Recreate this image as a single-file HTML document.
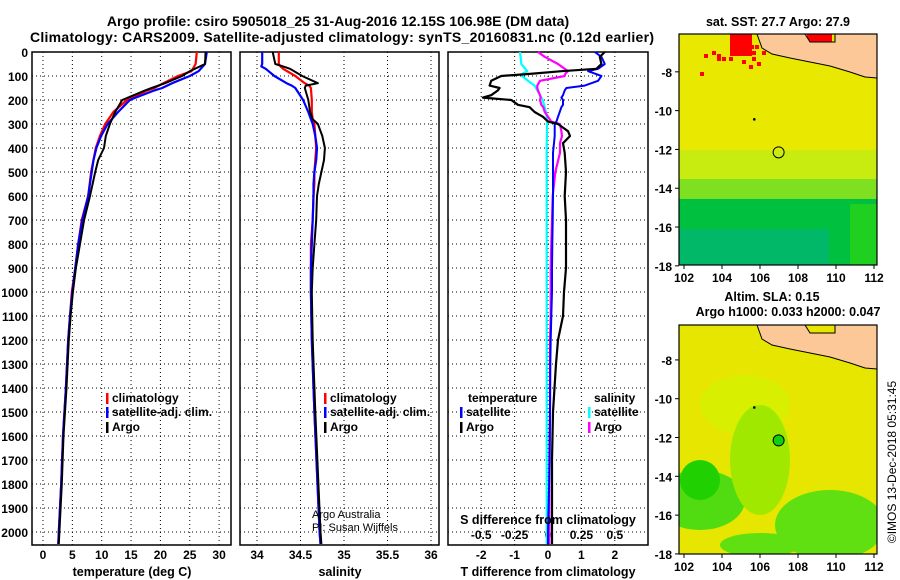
<!DOCTYPE html>
<html><head><meta charset="utf-8"><style>
body{margin:0;background:#fff}
svg{display:block;font-family:"Liberation Sans",sans-serif}
.b{font-weight:bold}
</style></head><body>
<svg id="c" width="900" height="580" viewBox="0 0 900 580">
<text class="b" x="338" y="26" text-anchor="middle" font-size="14">Argo profile: csiro 5905018_25 31-Aug-2016 12.15S 106.98E (DM data)</text>
<text class="b" x="342" y="42" text-anchor="middle" font-size="14" textLength="624">Climatology: CARS2009. Satellite-adjusted climatology: synTS_20160831.nc (0.12d earlier)</text>
<g id="panels"></g>
<g id="maps"></g>
</svg>
<script>
const NS="http://www.w3.org/2000/svg";
const svg=document.getElementById('c');
function mk(tag,attrs,parent){const e=document.createElementNS(NS,tag);for(const k in attrs)e.setAttribute(k,attrs[k]);(parent||svg).appendChild(e);return e;}

// ---- data ----
const tDepth=[0,50,80,100,130,150,160,190,200,250,300,350,400,450,500,600,700,800,900,1000,1100,1200,1400,1600,1800,2000,2050];
const tClim=[26.2,26.0,25.3,23.0,20.5,19.0,17.8,15.2,14.3,12.0,10.6,9.7,9.0,8.6,8.2,7.7,6.6,6.0,5.5,4.9,4.6,4.3,3.9,3.4,3.1,2.7,2.6];
const tSat=[27.9,27.6,26.5,25.0,22.0,20.3,19.0,15.8,14.8,12.8,11.0,9.9,9.1,8.6,8.3,7.7,6.7,6.0,5.5,5.0,4.6,4.3,3.9,3.4,3.1,2.7,2.6];
const tArgo=[27.7,27.6,25.0,23.7,20.8,18.5,17.4,14.5,13.5,12.3,11.4,10.7,10.4,9.4,8.9,8.0,7.0,6.3,5.6,5.1,4.7,4.4,4.0,3.5,3.2,2.8,2.7];
const sDepth=[0,50,60,70,100,130,140,150,200,250,280,300,350,400,450,500,550,600,700,800,900,1000,1200,1500,2000,2050];
const sClim=[34.25,34.25,34.27,34.3,34.44,34.55,34.6,34.62,34.63,34.63,34.64,34.66,34.67,34.68,34.67,34.66,34.66,34.65,34.64,34.62,34.62,34.62,34.63,34.66,34.72,34.73];
const sSat=[34.06,34.06,34.05,34.1,34.2,34.34,34.4,34.44,34.53,34.59,34.62,34.64,34.67,34.69,34.68,34.66,34.65,34.65,34.64,34.63,34.62,34.62,34.63,34.66,34.72,34.73];
const sArgo=[34.18,34.21,34.3,34.38,34.52,34.7,34.56,34.55,34.59,34.61,34.64,34.7,34.75,34.78,34.77,34.74,34.71,34.69,34.68,34.66,34.64,34.63,34.64,34.67,34.73,34.74];
const dDepth=[0,20,50,70,80,90,100,120,140,150,160,180,190,200,220,230,250,270,290,300,330,350,380,420,500,600,700,800,900,1000,1100,1200,1300,1500,1700,2000,2050];
const dTSat=[1.4,1.6,1.7,1.5,1.2,1.4,1.6,1.5,1.1,0.55,0.5,0.45,0.4,0.45,0.45,0.4,0.35,0.3,0.25,0.2,0.2,0.2,0.18,0.15,0.15,0.15,0.14,0.13,0.12,0.12,0.1,0.08,0.07,0.06,0.05,0.0,0.0];
const dTArgo=[1.7,1.55,1.6,1.45,0.4,-0.45,-1.4,-1.7,-1.75,-1.45,-1.5,-1.7,-1.95,-1.1,-0.9,-0.55,-0.4,-0.15,0.0,0.3,0.6,0.66,0.45,0.5,0.54,0.5,0.54,0.54,0.54,0.48,0.45,0.3,0.24,0.15,0.12,0.12,0.12];
const dSSat=[-0.42,-0.41,-0.4,-0.34,-0.31,-0.38,-0.39,-0.3,-0.2,-0.18,-0.16,-0.12,-0.1,-0.08,-0.06,-0.05,-0.03,-0.02,-0.015,-0.015,-0.015,-0.015,-0.02,-0.02,-0.02,-0.02,-0.02,-0.02,-0.02,-0.02,-0.02,-0.02,-0.02,-0.02,-0.02,-0.02,-0.02];
const dSArgo=[-0.15,-0.05,0.15,0.25,0.3,0.26,0.25,-0.12,-0.16,-0.16,-0.15,-0.12,-0.11,-0.12,-0.1,-0.07,-0.05,0.0,0.05,0.18,0.2,0.21,0.18,0.18,0.11,0.07,0.06,0.05,0.04,0.04,0.04,0.03,0.03,0.03,0.02,0.02,0.02];
const depthTicks=[0,100,200,300,400,500,600,700,800,900,1000,1100,1200,1300,1400,1500,1600,1700,1800,1900,2000];
const tTicks=[0,5,10,15,20,25,30];
const sTicks=[34,34.5,35,35.5,36];
const sTickLabels=["34","34.5","35","35.5","36"];
const dTTicks=[-2,-1,0,1,2];
const dSTickLabels=["-0.5","-0.25","0","0.25","0.5"];
const lonTicks=[102,104,106,108,110,112];
const latTicks=[-8,-10,-12,-14,-16,-18];

// ---- axes ----
const Y=d=>52+d*0.24;
const X1=v=>43+v*5.87;
const X2=v=>257+(v-34)*87;
const X3=v=>548+v*33.4;
const XS=v=>548+v*66.8;
const P=[{l:32,r:231,n:'temperature'},{l:240,r:439,n:'salinity'},{l:448,r:648,n:'difference'}];
const G=document.getElementById('panels');

function grid(p,xs){
  xs.forEach(x=>{const e=mk('line',{x1:x,x2:x,y1:52,y2:545,stroke:'#000','stroke-dasharray':'1,3','stroke-width':1},G);});
  depthTicks.forEach(d=>{const e=mk('line',{x1:p.l,x2:p.r,y1:Y(d),y2:Y(d),stroke:'#000','stroke-dasharray':'1,3','stroke-width':1},G);});
  const f=mk('rect',{x:p.l,y:52,width:p.r-p.l,height:493,fill:'none',stroke:'#000','stroke-width':1.5},G);
  
}
grid(P[0],tTicks.map(X1));
grid(P[1],sTicks.map(X2));
grid(P[2],dTTicks.map(X3));

depthTicks.forEach(d=>{const t=mk('text',{x:28,y:Y(d)+5,'text-anchor':'end','font-size':12,'font-weight':'bold'},G);t.textContent=d;});
function xlab(xs,labs,y,name){xs.forEach((x,i)=>{const t=mk('text',{x:x,y:y,'text-anchor':'middle','font-size':12,'font-weight':'bold'},G);t.textContent=labs[i];});}
xlab(tTicks.map(X1),tTicks,559,'temperature-tick-label');
xlab(sTicks.map(X2),sTickLabels,559,'salinity-tick-label');
xlab(dTTicks.map(X3),dTTicks,559,'t-diff-tick-label');
xlab(dTTicks.map(X3),dSTickLabels,539,'s-diff-tick-label');

function line(xs,ys,Xf,col,w,name){
  const pts=xs.map((v,i)=>Xf(v).toFixed(1)+','+Y(ys[i]).toFixed(1)).join(' ');
  const e=mk('polyline',{points:pts,fill:'none',stroke:col,'stroke-width':w,'stroke-linejoin':'round'},G);
  
}
line(tClim,tDepth,X1,'#f00',2.2,'temperature-climatology-line');
line(tSat,tDepth,X1,'#00f',2.2,'temperature-satellite-line');
line(tArgo,tDepth,X1,'#000',2,'temperature-argo-line');
line(sClim,sDepth,X2,'#f00',2.2,'salinity-climatology-line');
line(sSat,sDepth,X2,'#00f',2.2,'salinity-satellite-line');
line(sArgo,sDepth,X2,'#000',2,'salinity-argo-line');
line(dSSat,dDepth,XS,'#0ff',2.2,'s-diff-satellite-line');
line(dSArgo,dDepth,XS,'#f0f',2.2,'s-diff-argo-line');
line(dTSat,dDepth,X3,'#00f',2,'t-diff-satellite-line');
line(dTArgo,dDepth,X3,'#000',2.2,'t-diff-argo-line');

function txt(x,y,s,size,bold,name,anchor,parent){const t=mk('text',{x:x,y:y,'font-size':size,'font-weight':bold?'bold':'normal','text-anchor':anchor||'start'},parent||G);t.textContent=s;return t;}
function leg(x,y,col,s,name){const r=mk('rect',{x:x,y:y-9,width:2.5,height:11,fill:col},G);txt(x+6,y,s,12,true,name);}
leg(106,402,'#f00','climatology','legend-climatology');
leg(106,416,'#00f','satellite-adj. clim.','legend-satellite-adj');
leg(106,431,'#000','Argo','legend-argo');
leg(324,402,'#f00','climatology','legend2-climatology');
leg(324,416,'#00f','satellite-adj. clim.','legend2-satellite-adj');
leg(324,431,'#000','Argo','legend2-argo');
txt(468,402,'temperature',12,true,'legend-temperature-heading');
leg(460,416,'#00f','satellite','legend-t-satellite');
leg(460,431,'#000','Argo','legend-t-argo');
txt(594,402,'salinity',12,true,'legend-salinity-heading');
leg(588,416,'#0ff','satellite','legend-s-satellite');
leg(588,431,'#f0f','Argo','legend-s-argo');
txt(312,518,'Argo Australia',11,false,'credit-argo-australia');
txt(312,531,'PI: Susan Wijffels',11,false,'credit-pi');
txt(548,524,'S difference from climatology',12.5,true,'s-diff-axis-title','middle');
txt(132,576,'temperature (deg C)',12.5,true,'temperature-axis-title','middle');
txt(340,576,'salinity',12.5,true,'salinity-axis-title','middle');
txt(548,576,'T difference from climatology',12.5,true,'t-diff-axis-title','middle');

// ---- maps ----
const M=document.getElementById('maps');
function map(top,bot,latTop,name,sst){
  const L=679,R=877;
  const lx=v=>684+(v-102)*19.0;
  const ly=v=>top+(latTop-v)*19.4;
  const g=mk('g',{},M);
  const cid=name+'-clip';
  const cp=mk('clipPath',{id:cid},g);mk('rect',{x:L,y:top,width:R-L,height:bot-top},cp);
  const inner=mk('g',{'clip-path':'url(#'+cid+')'},g);
  if(sst){
    mk('rect',{x:L,y:top,width:R-L,height:bot-top,fill:'#e8e800'},inner);
    mk('rect',{x:L,y:top+116,width:R-L,height:32,fill:'#c8ec10'},inner);
    mk('rect',{x:L,y:top+145,width:R-L,height:20,fill:'#7ee020'},inner);
    mk('rect',{x:L,y:top+165,width:R-L,height:bot-top-165,fill:'#00c040'},inner);
    mk('rect',{x:L,y:top+195,width:150,height:bot-top-195,fill:'#00b868'},inner);
    mk('rect',{x:850,y:top+170,width:30,height:80,fill:'#20d020'},inner);
    [[740,45],[745,45],[750,45],[755,45],[747,51],[752,51],[762,51],[734,51],[704,54],[712,51],[717,57],[722,57],[717,54],[729,57],[742,60],[752,57],[757,62],[749,65],[700,72]].forEach(c=>mk('rect',{x:c[0],y:c[1],width:4,height:4,fill:'#f00'},inner));
    mk('rect',{x:730,y:34,width:22,height:22,fill:'#f00'},inner);
    mk('rect',{x:807,y:34,width:25,height:11,fill:'#f00'},inner);
  } else {
    mk('rect',{x:L,y:top,width:R-L,height:bot-top,fill:'#e6e600'},inner);
    [[745,405,45,30,'#d8f000'],[700,500,45,30,'#50dc10'],[760,470,20,40,'#50dc10'],[760,460,30,55,'#a0e800'],[830,530,40,30,'#00d000'],[830,525,55,35,'#60e010'],[760,545,40,12,'#60e010'],[700,480,20,20,'#20d000']].forEach(c=>mk('ellipse',{cx:c[0],cy:c[1],rx:c[2],ry:c[3],fill:c[4]},inner));
  }
  const land=mk('polygon',{points:[[757,top],[762,top+14],[772,top+20],[790,top+24],[810,top+28],[830,top+32],[850,top+38],[865,top+43],[877,top+44],[877,top],[835,top],[835,top+8],[810,top+8],[805,top]].map(p=>p.join(',')).join(' '),fill:'#fcc898',stroke:'#000','stroke-width':1},inner);
  
  const fr=mk('rect',{x:L,y:top,width:R-L,height:bot-top,fill:'none',stroke:'#000','stroke-width':1.2},g);
  
  lonTicks.forEach(v=>{mk('line',{x1:lx(v),x2:lx(v),y1:bot,y2:bot+4,stroke:'#000'},g);txt(lx(v),bot+17,v,12,true,name+'-lon-label','middle',g);});
  latTicks.forEach(v=>{mk('line',{x1:L-4,x2:L,y1:ly(v),y2:ly(v),stroke:'#000'},g);txt(L-7,ly(v)+5,v,12,true,name+'-lat-label','end',g);});
  const c=mk('circle',{cx:lx(106.98),cy:ly(-12.15),r:5.5,fill:sst?'none':'#10d010',stroke:'#000','stroke-width':1},g);
  
  mk('circle',{cx:lx(105.7),cy:ly(-10.45),r:1.3,fill:'#000'},g);
}
map(34,265,-6.05,'sst-map',true);
map(325,554,-6.2,'sla-map',false);
txt(778,26,'sat. SST: 27.7 Argo: 27.9',12.5,true,'sst-map-title','middle');
txt(772,301,'Altim. SLA: 0.15',12.5,true,'sla-map-title','middle');
txt(788,316,'Argo h1000: 0.033 h2000: 0.047',12.5,true,'sla-map-subtitle','middle');
const v=txt(0,0,'©IMOS 13-Dec-2018 05:31:45',12,false,'timestamp','middle');
v.setAttribute('transform','translate(896,462) rotate(-90)');
</script>
</body></html>
